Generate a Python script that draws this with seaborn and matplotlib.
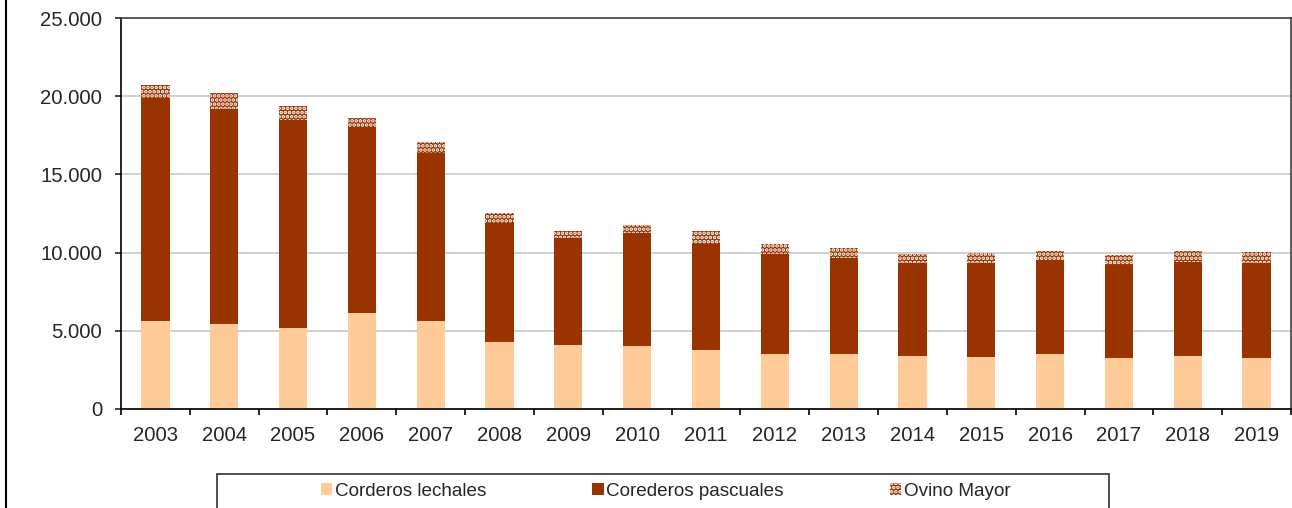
import numpy as np
import seaborn as sns
import matplotlib.pyplot as plt
import matplotlib.ticker as mticker
from matplotlib.patches import Patch, Rectangle
from matplotlib.lines import Line2D

years = ['2003', '2004', '2005', '2006', '2007', '2008', '2009', '2010', '2011',
         '2012', '2013', '2014', '2015', '2016', '2017', '2018', '2019']
lechales = [5650, 5430, 5180, 6140, 5630, 4260, 4070, 4030, 3750,
            3540, 3500, 3390, 3350, 3520, 3290, 3390, 3290]
pascuales = [14250, 13750, 13320, 11860, 10740, 7650, 6890, 7200, 6820,
             6350, 6170, 5920, 6000, 5990, 5900, 5990, 6050]
ovino_mayor = [840, 1020, 890, 630, 730, 640, 420, 530, 810,
               640, 640, 620, 620, 610, 660, 740, 720]
series_names = ['Corderos lechales', 'Corederos pascuales', 'Ovino Mayor']

c_lech = '#FFCC99'
c_pasc = '#993300'

sns.set_style('white')
plt.rcParams['font.family'] = ['Liberation Sans', 'DejaVu Sans']
plt.rcParams['hatch.linewidth'] = 1.8

fig = plt.figure(figsize=(12.92, 5.08), dpi=100)
ax = fig.add_axes([121/1292, 1-409/508, 1170/1292, 391/508])

# stacked bars drawn as overlapping cumulative totals
lech = np.array(lechales)
lech_pasc = lech + np.array(pascuales)
total = lech_pasc + np.array(ovino_mayor)

bw = 0.41
sns.barplot(x=years, y=total, color=c_pasc, saturation=1, errorbar=None, width=bw,
            hatch='....', edgecolor='white', linewidth=0, ax=ax)
sns.barplot(x=years, y=lech_pasc, color=c_pasc, saturation=1, errorbar=None, width=bw,
            linewidth=0, ax=ax)
sns.barplot(x=years, y=lech, color=c_lech, saturation=1, errorbar=None, width=bw,
            linewidth=0, ax=ax)

ax.set_xlim(-0.5, len(years) - 0.5)
ax.set_ylim(0, 25000)
ax.set_yticks(range(0, 25001, 5000))
ax.yaxis.set_major_formatter(mticker.FuncFormatter(lambda v, p: '{:,.0f}'.format(v).replace(',', '.')))
ax.yaxis.grid(True, color='#c8c8c8', lw=1.2)
ax.set_axisbelow(True)
ax.set_xlabel('')
ax.set_ylabel('')

ax.set_xticks(np.arange(-0.5, len(years), 1), minor=True)
ax.tick_params(axis='x', which='major', length=0, pad=12, labelsize=14.6)
ax.tick_params(axis='x', which='minor', length=4, width=1.2, direction='out', color='black', bottom=True)
ax.tick_params(axis='y', length=4.5, width=1.2, direction='out', pad=9, labelsize=14.6, left=True)

for s in ['left', 'bottom']:
    ax.spines[s].set_color('black')
    ax.spines[s].set_linewidth(1.2)
for s in ['top', 'right']:
    ax.spines[s].set_color('#404040')
    ax.spines[s].set_linewidth(1.2)

handles = [Patch(facecolor=c_lech, lw=0),
           Patch(facecolor=c_pasc, lw=0),
           Patch(facecolor=c_pasc, edgecolor='white', hatch='....', lw=0)]
fig.legend(handles, series_names, ncol=3, frameon=False, loc='center left',
           bbox_to_anchor=(321/1292, 1-491/508), borderpad=0, borderaxespad=0,
           handlelength=0.6, handleheight=0.6, handletextpad=0.15,
           columnspacing=5.6, prop={'size': 13.6})

# legend box (cut off by the figure edge) and outer chart frame
fig.patches.append(Rectangle((217/1292, -0.1), (1109-217)/1292, (1-474/508)+0.1,
                             transform=fig.transFigure, fill=False,
                             edgecolor='#303030', lw=1.2))
fig.lines.append(Line2D([5.5/1292, 5.5/1292], [0, 1], transform=fig.transFigure,
                        color='black', lw=1.5))

fig.savefig('out.png', dpi=100)
